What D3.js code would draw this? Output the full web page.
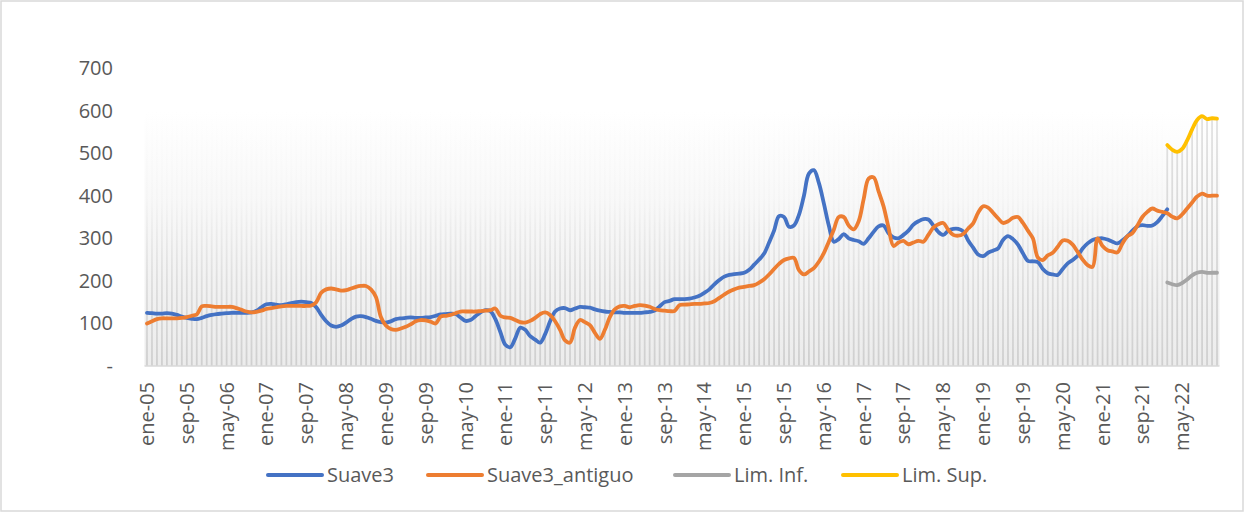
<!DOCTYPE html>
<html><head><meta charset="utf-8">
<script src="https://cdn.jsdelivr.net/npm/d3@7"></script>
<style>body{margin:0;background:#fff;}svg text{font-family:"Open Sans",sans-serif;fill:#595959;}</style>
</head><body><svg id="c" width="1249" height="514"></svg>
<script>
const monthNames = ["ene","feb","mar","abr","may","jun","jul","ago","sep","oct","nov","dic"];
const years = ["05","06","07","08","09","10","11","12","13","14","15","16","17","18","19","20","21","22"];
const categories = [];
years.forEach(y => monthNames.forEach(m => categories.push(m + "-" + y)));

const suave3 = [125,124,123,123,124,123,120,116,113,111,110,113,117,120,122,123,124,125,125,125,125,126,130,138,
145,146,144,143,145,148,150,151,150,148,138,120,105,95,92,95,102,110,116,117,115,111,106,103,
102,105,110,112,113,114,113,113,114,115,118,121,122,123,122,114,106,108,117,126,131,129,110,80,
50,44,65,90,85,70,62,55,75,105,128,135,136,131,135,139,138,137,133,130,128,127,126,126,
125,125,125,125,126,127,130,140,150,153,157,157,157,158,161,165,172,180,192,202,210,214,216,217,
219,226,238,250,264,290,318,352,350,327,330,355,400,452,460,430,382,330,292,298,310,300,296,293,
287,300,315,328,330,312,302,300,308,318,332,340,345,344,330,315,308,318,322,322,316,295,278,262,
258,266,271,276,296,305,298,285,265,247,246,244,228,218,215,214,228,241,249,259,276,288,296,299,
300,297,292,288,295,305,318,328,331,329,330,338,352,368];

const suave3Antiguo = [100,105,110,112,112,112,112,113,115,118,121,140,141,140,139,139,139,139,136,132,128,126,127,130,
134,136,138,140,141,141,141,141,141,142,150,172,180,182,180,177,178,182,186,188,188,180,162,115,
95,87,85,88,92,98,105,108,107,104,100,116,118,120,124,128,128,128,128,129,130,131,135,118,
114,113,108,103,102,106,113,122,126,120,105,85,60,55,90,108,103,96,78,64,85,115,133,140,
141,138,141,143,142,139,134,131,130,129,129,143,144,145,146,146,147,148,152,160,168,175,180,184,
186,188,190,196,204,215,228,240,249,253,254,225,215,222,230,245,265,292,320,350,350,330,321,340,
392,440,443,410,375,325,282,290,294,286,290,294,292,308,325,333,336,320,308,306,310,323,335,360,
375,372,360,347,336,340,348,350,336,318,300,255,249,260,266,280,295,294,285,268,250,237,233,300,
282,272,269,267,288,305,312,330,350,362,370,365,362,359,351,347,356,370,384,398,405,400,400,400];

const limStart = 205;
const limInf = [196,192,190,195,203,213,219,221,219,219,219];
const limSup = [519,508,503,510,530,556,578,587,580,582,581];

const yTicks = [0,100,200,300,400,500,600,700];
const yTickLabels = ["-","100","200","300","400","500","600","700"];
const xTickStep = 8;
const bgLevel = 600;
const legendX = [268,428,675,843];

const svg = d3.select("#c");
const defs = svg.append("defs");
const bgGrad = defs.append("linearGradient").attr("id","bg").attr("x1",0).attr("y1",0).attr("x2",0).attr("y2",1);
bgGrad.append("stop").attr("offset","0%").attr("stop-color","#ffffff");
bgGrad.append("stop").attr("offset","100%").attr("stop-color","#ececec");
const stGrad = defs.append("linearGradient").attr("id","st").attr("gradientUnits","userSpaceOnUse")
  .attr("x1",0).attr("y1",110).attr("x2",0).attr("y2",366);
stGrad.append("stop").attr("offset","0%").attr("stop-color","#d2d2d2").attr("stop-opacity",0);
stGrad.append("stop").attr("offset","35%").attr("stop-color","#d2d2d2").attr("stop-opacity",0.08);
stGrad.append("stop").attr("offset","65%").attr("stop-color","#d2d2d2").attr("stop-opacity",0.6);
stGrad.append("stop").attr("offset","100%").attr("stop-color","#cfcfcf").attr("stop-opacity",1);
const stGrad2 = defs.append("linearGradient").attr("id","st2").attr("gradientUnits","userSpaceOnUse")
  .attr("x1",0).attr("y1",110).attr("x2",0).attr("y2",366);
stGrad2.append("stop").attr("offset","0%").attr("stop-color","#d6d6d6").attr("stop-opacity",0.7);
stGrad2.append("stop").attr("offset","100%").attr("stop-color","#d0d0d0").attr("stop-opacity",1);

svg.append("rect").attr("x",1).attr("y",1).attr("width",1242).attr("height",510)
  .attr("fill","#fff").attr("stroke","#d9d9d9").attr("stroke-width",1.5);

const x = d3.scaleBand().domain(d3.range(categories.length)).range([144.5,1219.5]).padding(0);
const y = d3.scaleLinear().domain([0,700]).range([366,68]);
const cx = i => x(i) + x.bandwidth()/2;

// background area
svg.append("rect").attr("x",x(0)).attr("y",y(bgLevel)).attr("width",x.step()*categories.length)
  .attr("height",y(0)-y(bgLevel)).attr("fill","url(#bg)");

// stripes
const stripeTop = i => (i >= limStart && limSup[i-limStart] != null) ? limSup[i-limStart] : bgLevel;
svg.append("g").selectAll("line").data(d3.range(categories.length)).join("line")
  .attr("x1",cx).attr("x2",cx).attr("y1",y(0)).attr("y2",i => y(stripeTop(i)))
  .attr("stroke", i => i >= limStart ? "url(#st2)" : "url(#st)").attr("stroke-width",1.8);

// axis baseline
svg.append("line").attr("x1",x(0)).attr("x2",x(0)+x.step()*categories.length)
  .attr("y1",y(0)).attr("y2",y(0)).attr("stroke","#d9d9d9").attr("stroke-width",1.5);

// y labels
svg.append("g").selectAll("text").data(yTicks).join("text")
  .attr("x",113).attr("y",d=>y(d)).attr("dy","0.35em").attr("text-anchor","end")
  .attr("font-size",20).text((d,i)=>yTickLabels[i]);

// x labels
const xIdx = d3.range(0,categories.length,xTickStep);
svg.append("g").selectAll("text").data(xIdx).join("text")
  .attr("transform",i=>`translate(${cx(i)},382) rotate(-90)`).attr("dy","0.35em")
  .attr("text-anchor","end").attr("font-size",20).text(i=>categories[i]);

const line = d3.line().curve(d3.curveCatmullRom.alpha(0.5)).x(d=>cx(d.i)).y(d=>y(d.v));
const toPts = (arr, start) => arr.map((v,k)=>({i:start+k, v}));
const series = [
  {name:"Suave3", color:"#4472C4", pts: toPts(suave3,0)},
  {name:"Suave3_antiguo", color:"#ED7D31", pts: toPts(suave3Antiguo,0)},
  {name:"Lim. Inf.", color:"#A5A5A5", pts: toPts(limInf,limStart)},
  {name:"Lim. Sup.", color:"#FFC000", pts: toPts(limSup,limStart)}
];
svg.append("g").selectAll("path").data(series).join("path")
  .attr("d",s=>line(s.pts)).attr("fill","none").attr("stroke",s=>s.color)
  .attr("stroke-width",3.8).attr("stroke-linejoin","round").attr("stroke-linecap","round");

// legend
const lg = svg.append("g");
series.forEach((s,k)=>{
  const lx = legendX[k];
  lg.append("line").attr("x1",lx).attr("x2",lx+54).attr("y1",475).attr("y2",475)
    .attr("stroke",s.color).attr("stroke-width",4).attr("stroke-linecap","round");
  lg.append("text").attr("x",lx+59).attr("y",475).attr("dy","0.35em").attr("font-size",20).text(s.name);
});
</script></body></html>
